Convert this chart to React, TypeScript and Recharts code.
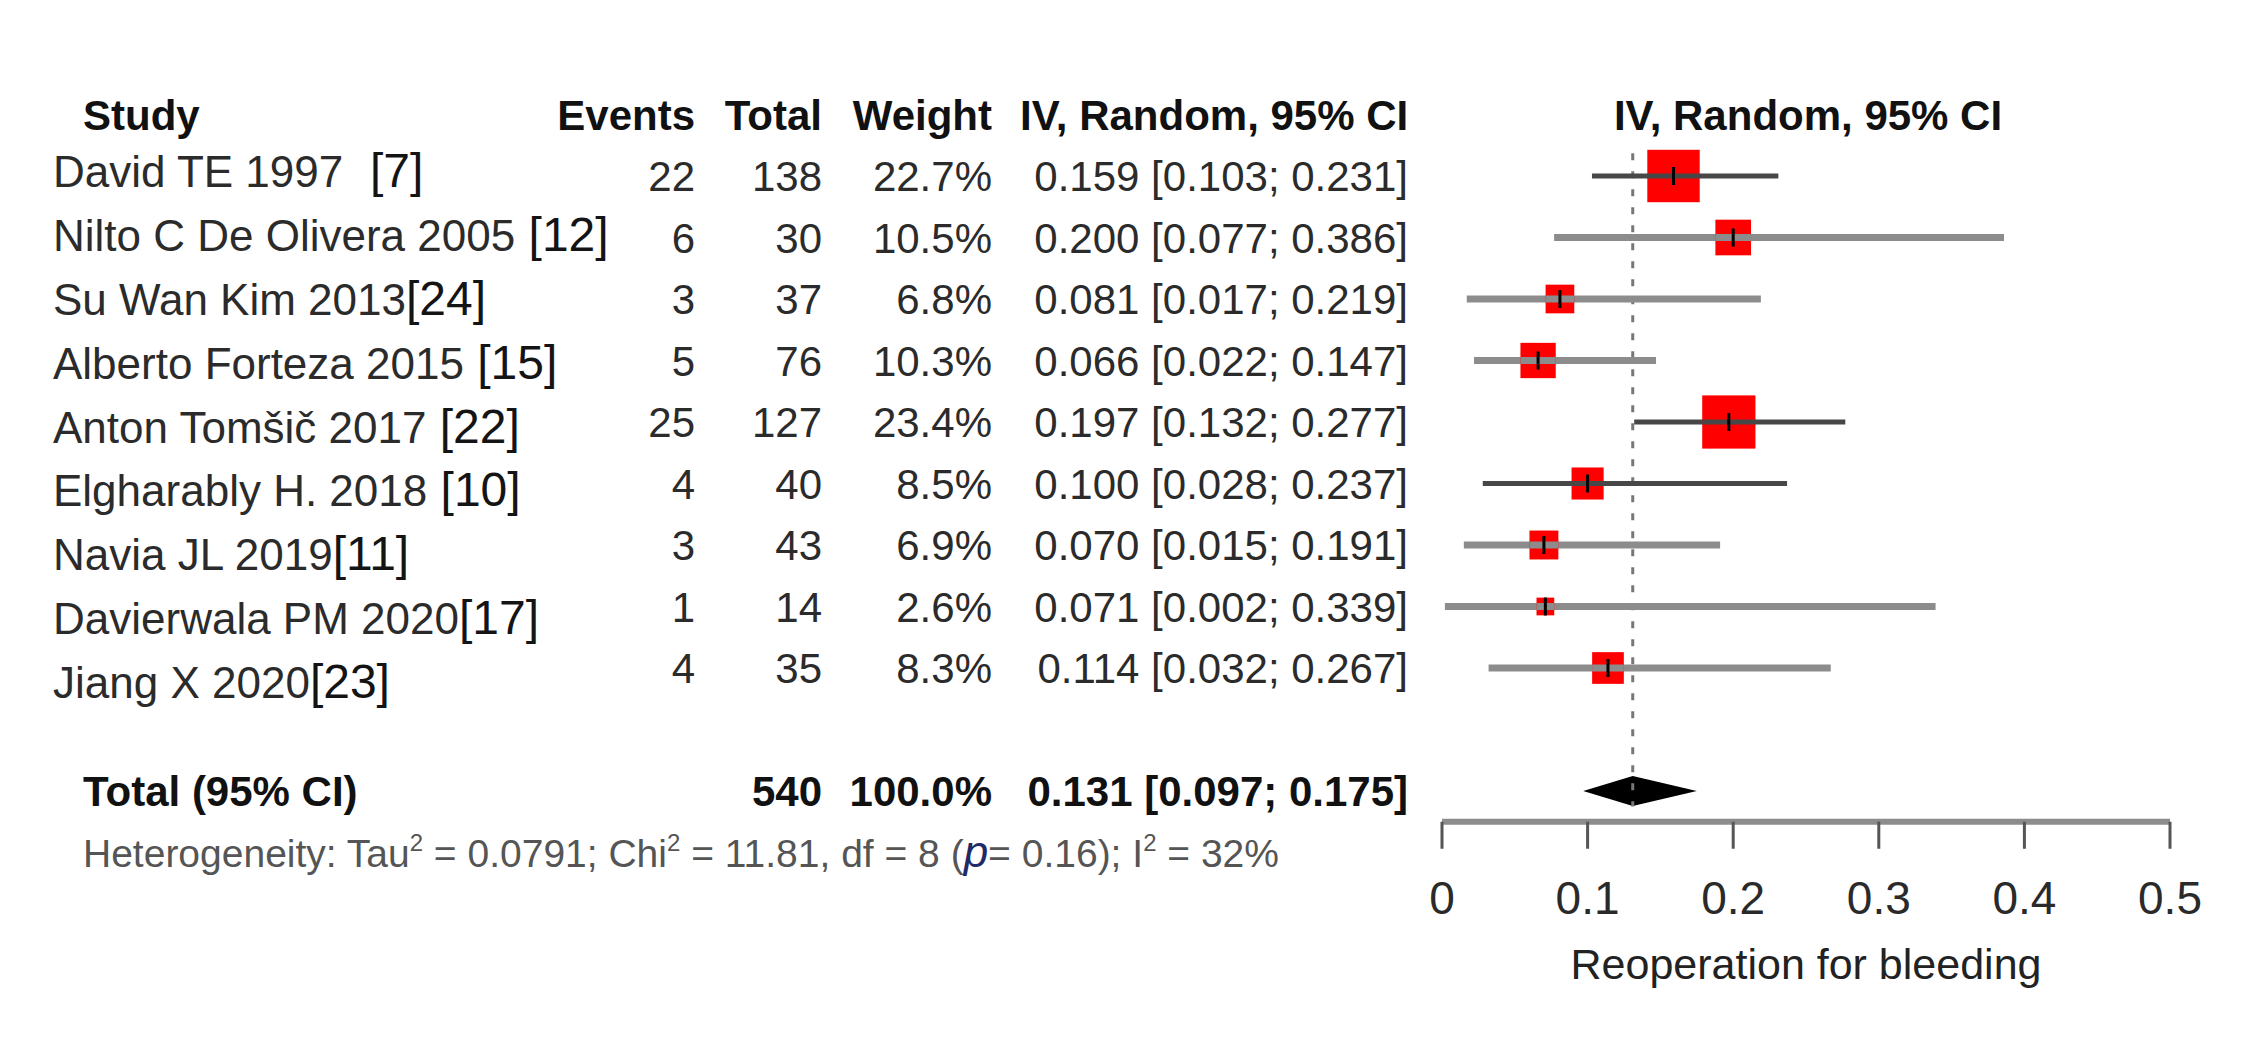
import React from 'react';
import {
  ScatterChart,
  Scatter,
  XAxis,
  YAxis,
  ErrorBar,
  ReferenceLine,
  ReferenceArea,
} from 'recharts';

// ---------------- DATA ----------------
const studies = [
  'David TE 1997',
  'Nilto C De Olivera 2005',
  'Su Wan Kim 2013',
  'Alberto Forteza 2015',
  'Anton Tomšič 2017',
  'Elgharably H. 2018',
  'Navia JL 2019',
  'Davierwala PM 2020',
  'Jiang X 2020',
];
const citations = ['  [7]', ' [12]', '[24]', ' [15]', ' [22]', ' [10]', '[11]', '[17]', '[23]'];
const events = [22, 6, 3, 5, 25, 4, 3, 1, 4];
const totals = [138, 30, 37, 76, 127, 40, 43, 14, 35];
const weights = [22.7, 10.5, 6.8, 10.3, 23.4, 8.5, 6.9, 2.6, 8.3];
const estimates = [0.159, 0.2, 0.081, 0.066, 0.197, 0.1, 0.07, 0.071, 0.114];
const lowerCI = [0.103, 0.077, 0.017, 0.022, 0.132, 0.028, 0.015, 0.002, 0.032];
const upperCI = [0.231, 0.386, 0.219, 0.147, 0.277, 0.237, 0.191, 0.339, 0.267];

const pooledEstimate = 0.131;
const pooledLower = 0.097;
const pooledUpper = 0.175;
const pooledTotal = 540;
const pooledWeight = 100.0;

const tau2 = '0.0791';
const chi2 = '11.81';
const df = 8;
const pValue = '0.16';
const i2 = 32;

const xTicks = [0, 0.1, 0.2, 0.3, 0.4, 0.5];
const xTitle = 'Reoperation for bleeding';
const headers = ['Study', 'Events', 'Total', 'Weight', 'IV, Random, 95% CI'];
const plotHeader = 'IV, Random, 95% CI';
const totalLabel = 'Total (95% CI)';

// ---------------- STYLE / LAYOUT ----------------
const FONT = '"Liberation Sans", Arial, Helvetica, sans-serif';
const W = 2253;
const H = 1037;
const HEADER_ROW = -1;
const TOTAL_ROW = 10;
const DARK_ROWS = [0, 4, 5];

const COL_NAME_X = 53;
const COL_STUDY_HDR_X = 83;
const COL_EVENTS_R = 695;
const COL_TOTAL_R = 822;
const COL_WEIGHT_R = 992;
const COL_CI_HDR_L = 1020;
const COL_CI_R = 1408;
const PLOT_HDR_CX = 1808;
const HET_OFFSET = 62;

const fmt3 = (v: number) => v.toFixed(3);
const ciText = (e: number, l: number, u: number) => `${fmt3(e)} [${fmt3(l)}; ${fmt3(u)}]`;

const rows = studies.map((name, i) => ({
  row: i,
  est: estimates[i],
  err: [estimates[i] - lowerCI[i], upperCI[i] - estimates[i]],
  weight: weights[i],
}));
const darkRows = rows.filter((r) => DARK_ROWS.includes(r.row));
const lightRows = rows.filter((r) => !DARK_ROWS.includes(r.row));
const yTicks = [HEADER_ROW, ...studies.map((_, i) => i), TOTAL_ROW];

const makeSquare = (lineColor: string, lineWidth: number) => (props: any) => {
  const { cx, cy, payload } = props;
  if (cx == null || cy == null) return <g />;
  const s = 11 * Math.sqrt(payload.weight);
  return (
    <g>
      <rect x={cx - s / 2} y={cy - s / 2} width={s} height={s} fill="#ff0000" />
      <line x1={cx - s / 2} x2={cx + s / 2} y1={cy} y2={cy} stroke={lineColor} strokeWidth={lineWidth} />
      <line x1={cx} x2={cx} y1={cy - 9} y2={cy + 9} stroke="#000" strokeWidth={3} />
    </g>
  );
};

const Diamond = (props: any) => {
  const { x, y, width, height } = props;
  if (x == null) return <g />;
  const ex = x + (width * (pooledEstimate - pooledLower)) / (pooledUpper - pooledLower);
  const cy = y + height / 2;
  const pts = `${x},${cy} ${ex},${y} ${x + width},${cy} ${ex},${y + height}`;
  return <polygon points={pts} fill="#000" />;
};

const RowTick = (props: any) => {
  const { y, payload } = props;
  const v = Math.round(payload.value);
  const txt = { fontFamily: FONT } as React.CSSProperties;
  if (v === HEADER_ROW) {
    const hs = { fontSize: 42, fontWeight: 700, fill: '#111', ...txt };
    return (
      <g>
        <text x={COL_STUDY_HDR_X} y={y} dy="0.36em" style={hs}>{headers[0]}</text>
        <text x={COL_EVENTS_R} y={y} dy="0.36em" textAnchor="end" style={hs}>{headers[1]}</text>
        <text x={COL_TOTAL_R} y={y} dy="0.36em" textAnchor="end" style={hs}>{headers[2]}</text>
        <text x={COL_WEIGHT_R} y={y} dy="0.36em" textAnchor="end" style={hs}>{headers[3]}</text>
        <text x={COL_CI_HDR_L} y={y} dy="0.36em" style={hs}>{headers[4]}</text>
        <text x={PLOT_HDR_CX} y={y} dy="0.36em" textAnchor="middle" style={hs}>{plotHeader}</text>
      </g>
    );
  }
  if (v === TOTAL_ROW) {
    const bs = { fontSize: 42, fontWeight: 700, fill: '#111', ...txt };
    const yh = y + HET_OFFSET;
    return (
      <g>
        <text x={COL_STUDY_HDR_X} y={y} dy="0.36em" style={bs}>{totalLabel}</text>
        <text x={COL_TOTAL_R} y={y} dy="0.36em" textAnchor="end" style={bs}>{pooledTotal}</text>
        <text x={COL_WEIGHT_R} y={y} dy="0.36em" textAnchor="end" style={bs}>{pooledWeight.toFixed(1)}%</text>
        <text x={COL_CI_R} y={y} dy="0.36em" textAnchor="end" style={bs}>
          {ciText(pooledEstimate, pooledLower, pooledUpper)}
        </text>
        <text x={COL_STUDY_HDR_X} y={yh} dy="0.36em" style={{ fontSize: 39, fill: '#555', ...txt }}>
          <tspan>{'Heterogeneity: Tau'}</tspan>
          <tspan dy={-16} fontSize={24}>2</tspan>
          <tspan dy={16}>{` = ${tau2}; Chi`}</tspan>
          <tspan dy={-16} fontSize={24}>2</tspan>
          <tspan dy={16}>{` = ${chi2}, df = ${df} (`}</tspan>
          <tspan fontStyle="italic" fontSize={44} fill="#1f2a66">p</tspan>
          <tspan>{`= ${pValue}); I`}</tspan>
          <tspan dy={-16} fontSize={24}>2</tspan>
          <tspan dy={16}>{` = ${i2}%`}</tspan>
        </text>
      </g>
    );
  }
  if (v < 0 || v >= studies.length) return <g />;
  const ns = { fontSize: 42, fill: '#2b2b2b', ...txt };
  const nameY = y - 4.5 + 2.3 * v;
  return (
    <g>
      <text x={COL_NAME_X} y={nameY} dy="0.36em" style={{ fontSize: 44, fill: '#2b2b2b', whiteSpace: 'pre', ...txt }}>
        <tspan>{studies[v]}</tspan>
        <tspan fontSize={48} fill="#141414">{citations[v]}</tspan>
      </text>
      <text x={COL_EVENTS_R} y={y} dy="0.36em" textAnchor="end" style={ns}>{events[v]}</text>
      <text x={COL_TOTAL_R} y={y} dy="0.36em" textAnchor="end" style={ns}>{totals[v]}</text>
      <text x={COL_WEIGHT_R} y={y} dy="0.36em" textAnchor="end" style={ns}>{weights[v].toFixed(1)}%</text>
      <text x={COL_CI_R} y={y} dy="0.36em" textAnchor="end" style={ns}>
        {ciText(estimates[v], lowerCI[v], upperCI[v])}
      </text>
    </g>
  );
};

export default function App() {
  return (
    <div
      style={{
        position: 'absolute',
        left: 0,
        top: 0,
        width: W,
        height: H,
        background: '#fff',
        fontFamily: FONT,
      }}
    >
      <ScatterChart
        width={W}
        height={H}
        margin={{ top: 114.5, right: 83, bottom: 155.25, left: 1441 }}
      >
        <XAxis
          type="number"
          dataKey="est"
          domain={[0, 0.5]}
          ticks={xTicks}
          allowDataOverflow
          interval={0}
          height={60}
          axisLine={{ stroke: '#8c8c8c', strokeWidth: 6 }}
          tickLine={{ stroke: '#555', strokeWidth: 3 }}
          tickSize={27}
          tickMargin={33}
          tick={{ fill: '#2a2a2a', fontSize: 46, fontFamily: FONT }}
          label={{
            value: xTitle,
            position: 'bottom',
            offset: 67,
            fill: '#222',
            fontSize: 43,
            fontFamily: FONT,
          }}
        />
        <YAxis
          type="number"
          dataKey="row"
          domain={[HEADER_ROW, 10.5]}
          reversed
          allowDataOverflow
          ticks={yTicks}
          interval={0}
          width={1}
          axisLine={false}
          tickLine={false}
          tick={(p: any) => <RowTick {...p} />}
        />
        <ReferenceLine
          segment={[
            { x: pooledEstimate, y: -0.37 },
            { x: pooledEstimate, y: 10.25 },
          ]}
          stroke="#777"
          strokeWidth={3}
          strokeDasharray="7 11"
        />
        <Scatter
          data={lightRows}
          isAnimationActive={false}
          shape={makeSquare('#8c8c8c', 7)}
        >
          <ErrorBar
            dataKey="err"
            direction="x"
            width={0}
            stroke="#8c8c8c"
            strokeWidth={7}
            isAnimationActive={false}
          />
        </Scatter>
        <Scatter
          data={darkRows}
          isAnimationActive={false}
          shape={makeSquare('#474747', 5)}
        >
          <ErrorBar
            dataKey="err"
            direction="x"
            width={0}
            stroke="#474747"
            strokeWidth={5}
            isAnimationActive={false}
          />
        </Scatter>
        <ReferenceArea
          x1={pooledLower}
          x2={pooledUpper}
          y1={TOTAL_ROW - 0.245}
          y2={TOTAL_ROW + 0.245}
          shape={Diamond}
          fill="#000"
          fillOpacity={1}
        />
      </ScatterChart>
    </div>
  );
}
